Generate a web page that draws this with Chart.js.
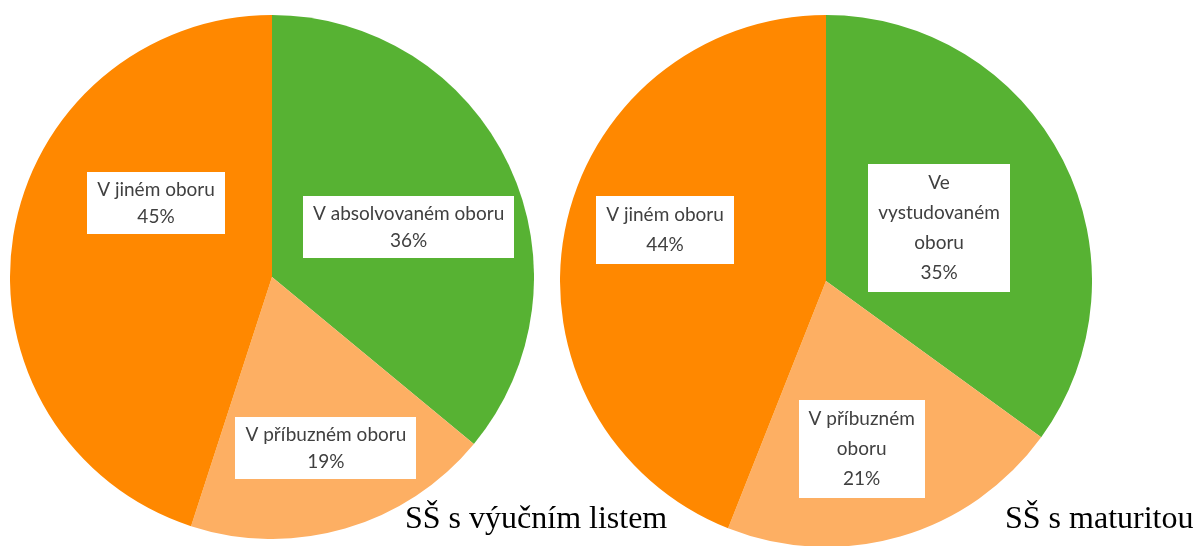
<!DOCTYPE html>
<html>
<head>
<meta charset="utf-8">
<script src="https://cdn.jsdelivr.net/npm/chart.js@4"></script>
<style>
  html, body { margin: 0; padding: 0; background: #fff; }
  body { width: 1198px; height: 546px; position: relative; overflow: hidden; }
  .pie { position: absolute; }
  .title {
    position: absolute;
    font-family: "Liberation Serif", "Times New Roman", serif;
    font-size: 32px;
    color: #000;
    white-space: nowrap;
    line-height: 1;
  }
</style>
</head>
<body>
<div class="pie" style="left:10px; top:15px; width:524px; height:524px;"><canvas id="pieLeft"></canvas></div>
<div class="pie" style="left:560px; top:15px; width:532px; height:532px;"><canvas id="pieRight"></canvas></div>
<div class="title" style="left:405px; top:501px;">SŠ s výučním listem</div>
<div class="title" style="left:1005px; top:501px;">SŠ s maturitou</div>

<script>
// order: clockwise from 12 o'clock
const leftLabels = [['V absolvovaném oboru'], ['V příbuzném oboru'], ['V jiném oboru']];
const leftValues = [36, 19, 45];

const rightLabels = [['Ve', 'vystudovaném', 'oboru'], ['V příbuzném', 'oboru'], ['V jiném oboru']];
const rightValues = [35, 21, 44];

const sliceColors = ['#57b233', '#fdaf63', '#ff8800'];

// where each white label box sits: angle (deg, clockwise from top) and fraction of radius
const leftBoxPos = [[70, 0.555], [162.5, 0.684], [302.5, 0.525]];
const rightBoxPos = [[65, 0.469], [168, 0.645], [287.6, 0.635]];

const boxLabels = {
    id: 'boxLabels',
    afterDatasetsDraw(chart, args, opts) {
        const ctx = chart.ctx;
        const meta = chart.getDatasetMeta(0);
        const data = chart.data.datasets[0].data;
        ctx.save();
        ctx.font = opts.font;
        ctx.textAlign = 'center';
        ctx.textBaseline = 'middle';
        meta.data.forEach((arc, i) => {
            const lines = chart.data.labels[i].concat([data[i] + '%']);
            const [deg, frac] = opts.pos[i];
            const a = deg * Math.PI / 180;
            const cx = arc.x + Math.sin(a) * arc.outerRadius * frac;
            const cy = arc.y - Math.cos(a) * arc.outerRadius * frac;
            let w = 0;
            lines.forEach(l => { w = Math.max(w, ctx.measureText(l).width); });
            w += opts.padX * 2;
            const h = lines.length * opts.lineHeight + opts.padY * 2;
            ctx.fillStyle = '#ffffff';
            ctx.fillRect(Math.round(cx - w / 2), Math.round(cy - h / 2), Math.round(w), Math.round(h));
            ctx.fillStyle = '#404040';
            lines.forEach((l, k) => {
                ctx.fillText(l, cx, cy - h / 2 + opts.padY + opts.lineHeight * (k + 0.5));
            });
        });
        ctx.restore();
    }
};

function makePie(id, labels, values, pos, lineHeight) {
    return new Chart(document.getElementById(id), {
        type: 'pie',
        data: {
            labels: labels,
            datasets: [{
                data: values,
                backgroundColor: sliceColors,
                borderWidth: 0
            }]
        },
        options: {
            responsive: true,
            maintainAspectRatio: false,
            animation: false,
            layout: { padding: 0 },
            plugins: {
                legend: { display: false },
                tooltip: { enabled: false },
                boxLabels: {
                    font: '19px Lato, "Open Sans", sans-serif',
                    pos: pos,
                    lineHeight: lineHeight,
                    padX: 10,
                    padY: 4
                }
            }
        },
        plugins: [boxLabels]
    });
}

makePie('pieLeft', leftLabels, leftValues, leftBoxPos, 27);
makePie('pieRight', rightLabels, rightValues, rightBoxPos, 30);
</script>
</body>
</html>
